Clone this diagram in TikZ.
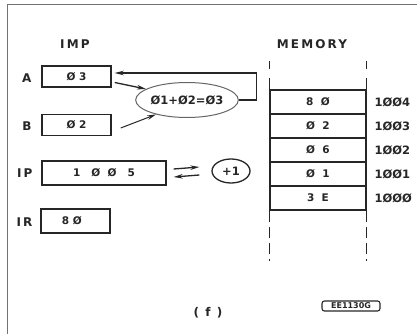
\documentclass[tikz,border=0pt]{standalone}
\usepackage{fontspec}
\setmainfont{DejaVu Sans}
\newfontfamily\spaced{DejaVu Sans}[LetterSpace=18]
\usetikzlibrary{arrows.meta,calc,shapes.geometric}
\begin{document}
\begin{tikzpicture}[x=1pt,y=-1pt,
  reg/.style={draw=black!85, line width=1.4pt, minimum width=69pt, minimum height=21pt, inner sep=0pt, font=\bfseries\fontsize{10.5}{10.5}\selectfont, text=black!85},
  cell/.style={draw=black!85, line width=1.2pt, minimum width=96pt, minimum height=24pt, inner sep=0pt, font=\bfseries\fontsize{10.5}{10.5}\selectfont, text=black!85},
  lbl/.style={font=\spaced\bfseries\fontsize{12}{12}\selectfont, text=black!85},
  addr/.style={anchor=west, font=\bfseries\fontsize{11.5}{11.5}\selectfont, text=black!85},
  arr/.style={-{Stealth[length=9pt,width=4.5pt]}, line width=1.3pt, draw=black!85},
  mline/.style={line width=1.4pt, draw=black!85}
]
\useasboundingbox (0,0) rectangle (417,334);
% frame
\draw[black!55, line width=1pt] (7,334) -- (7,5) -- (417,5);

% titles
\node[lbl] (imp) at (75,44) {IMP};
\node[lbl] (mem) at (312,44) {MEMORY};

% registers
\node[reg] (A) at (76.5,76.5) {Ø 3};
\node[lbl, anchor=east] (Al) at (35,78) {A};
\node[reg] (B) at (76.5,125) {Ø 2};
\node[lbl, anchor=east] (Bl) at (35,126) {B};
\node[reg, minimum width=124pt, minimum height=24pt] (IP) at (104,173) {1 \ \ Ø \ Ø \ \ 5};
\node[lbl, anchor=east] (IPl) at (36,173) {IP};
\node[reg, minimum height=24pt] (IR) at (75.5,221) {8 Ø \ \ };
\node[lbl, anchor=east] (IRl) at (36,222) {IR};

% ALU ellipse
\node[draw=black!60, line width=1pt, ellipse, minimum width=95pt, minimum height=35pt, inner sep=0pt,
  font=\bfseries\fontsize{11.5}{11.5}\selectfont, text=black!85] (alu) at (187,100) {Ø1+Ø2=Ø3};
% +1
\node[draw=black!85, line width=1.3pt, ellipse, minimum width=38pt, minimum height=24pt, inner sep=0pt,
  font=\bfseries\fontsize{11.5}{11.5}\selectfont, text=black!85] (inc) at (231,171) {+1};

% arrows
\draw[arr] ([xshift=3pt,yshift=-6pt]A.east) -- (alu.165);
\draw[arr, line width=1pt] ([xshift=9pt,yshift=-3pt]B.east) -- (alu.205);
\draw[arr] (alu.east) -- ++(18,0) |- ([xshift=3pt,yshift=3.5pt]A.east);
\draw[arr] ([xshift=7pt,yshift=4pt]IP.east) -- ([xshift=-12pt,yshift=4pt]inc.west);
\draw[arr] ([xshift=-12pt,yshift=-4pt]inc.west) -- ([xshift=7pt,yshift=-4pt]IP.east);

% memory
\node[cell] (m4) at (318,102) {8 \ Ø};
\node[cell] (m3) at (318,126) {Ø \ 2};
\node[cell] (m2) at (318,150) {Ø \ 6};
\node[cell] (m1) at (318,174) {Ø \ 1};
\node[cell] (m0) at (318,198) {3 \ E};
\draw[mline, dash pattern=on 11pt off 9pt] (m4.north west) -- ++(0,-28);
\draw[mline, dash pattern=on 11pt off 9pt] (m4.north east) -- ++(0,-28);
\draw[mline, dash pattern=on 11pt off 5pt] (m0.south west) -- ++(0,50);
\draw[mline, dash pattern=on 11pt off 5pt] (m0.south east) -- ++(0,50);

\node[addr] (a4) at (371,102) {1ØØ4};
\node[addr] (a3) at (371,126) {1ØØ3};
\node[addr] (a2) at (371,150) {1ØØ2};
\node[addr] (a1) at (371,174) {1ØØ1};
\node[addr] (a0) at (371,198) {1ØØØ};

% caption
\node[lbl] (cap) at (208,313) {( f )};
\node[draw=black!85, line width=1.1pt, rounded corners=2.5pt, inner sep=2pt, minimum width=58pt,
  font=\bfseries\fontsize{8}{8}\selectfont, text=black!85] (code) at (351,306) {EE1130G};
\end{tikzpicture}
\end{document}
